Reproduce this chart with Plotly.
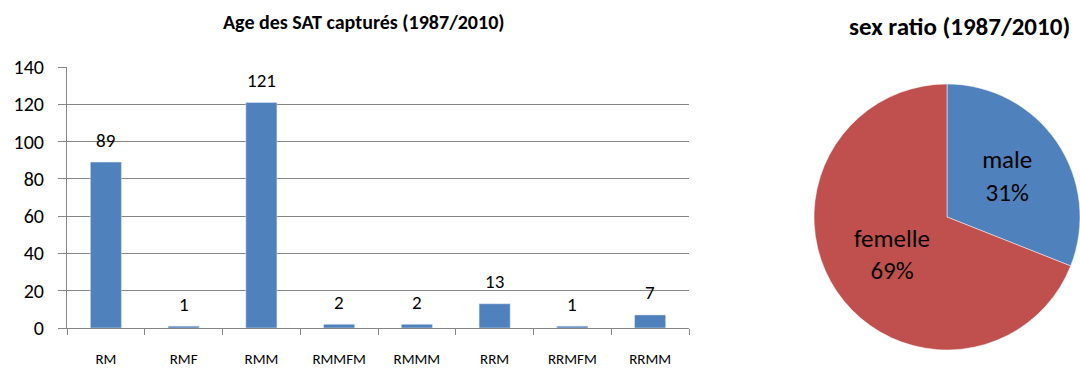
import plotly.graph_objects as go

categories = ["RM", "RMF", "RMM", "RMMFM", "RMMM", "RRM", "RRMFM", "RRMM"]
counts = [89, 1, 121, 2, 2, 13, 1, 7]
sex_labels = ["male", "femelle"]
sex_values = [31, 69]

FONT = "Carlito, Lato, sans-serif"
BLUE = "#4F81BD"
RED = "#C0504D"
GRID = "#868686"

fig = go.Figure()
fig.add_trace(go.Bar(x=categories, y=counts, marker_color=BLUE, width=0.4,
                     xaxis="x", yaxis="y", showlegend=False, hoverinfo="skip"))

for c, v in zip(categories, counts):
    fig.add_annotation(x=c, y=v, xref="x", yref="y", text=str(v), showarrow=False,
                       xanchor="center", yanchor="middle", yshift=22,
                       font=dict(family=FONT, size=19, color="black"))

fig.add_trace(go.Pie(labels=sex_labels, values=sex_values, sort=False, direction="clockwise",
                     rotation=0, marker=dict(colors=[BLUE, RED], line=dict(color="white", width=0.5)),
                     textinfo="label+percent", textposition="inside", insidetextorientation="horizontal",
                     textfont=dict(family=FONT, size=25, color="black"), automargin=False,
                     domain=dict(x=[814/1080, 1.0], y=[19/369, 285/369]), showlegend=False,
                     hoverinfo="skip"))

fig.add_annotation(x=364/1080, y=1-22/369, xref="paper", yref="paper", xanchor="center", yanchor="middle",
                   text="<b>Age des SAT capturés (1987/2010)</b>",
                   showarrow=False, font=dict(family=FONT, size=20, color="black"))
fig.add_annotation(x=959/1080, y=1-27/369, xref="paper", yref="paper", xanchor="center", yanchor="middle",
                   text="<b>sex ratio (1987/2010)</b>",
                   showarrow=False, font=dict(family=FONT, size=25, color="black"))

fig.update_layout(
    width=1080, height=369, margin=dict(l=0, r=0, t=0, b=0, autoexpand=False),
    paper_bgcolor="white", plot_bgcolor="white",
    font=dict(family=FONT, color="black"),
    xaxis=dict(domain=[67/1080, 689/1080], showline=True, linecolor=GRID, linewidth=1,
               ticks="outside", tickson="boundaries", ticklen=6, tickcolor=GRID, automargin=False,
               tickfont=dict(size=15), ticklabelstandoff=17, showgrid=False, fixedrange=True),
    yaxis=dict(domain=[41/369, 302/369], range=[0, 140], dtick=20, showline=True, linecolor=GRID,
               linewidth=1, ticks="outside", ticklen=8, tickcolor=GRID, gridcolor=GRID, gridwidth=1,
               tickfont=dict(size=20), ticklabelstandoff=10, zeroline=False, automargin=False,
               fixedrange=True),
    bargap=0.6,
)

fig.write_html("out.html", config={"displayModeBar": False},
               post_script="document.body.style.margin='0';document.body.style.overflow='hidden';")
